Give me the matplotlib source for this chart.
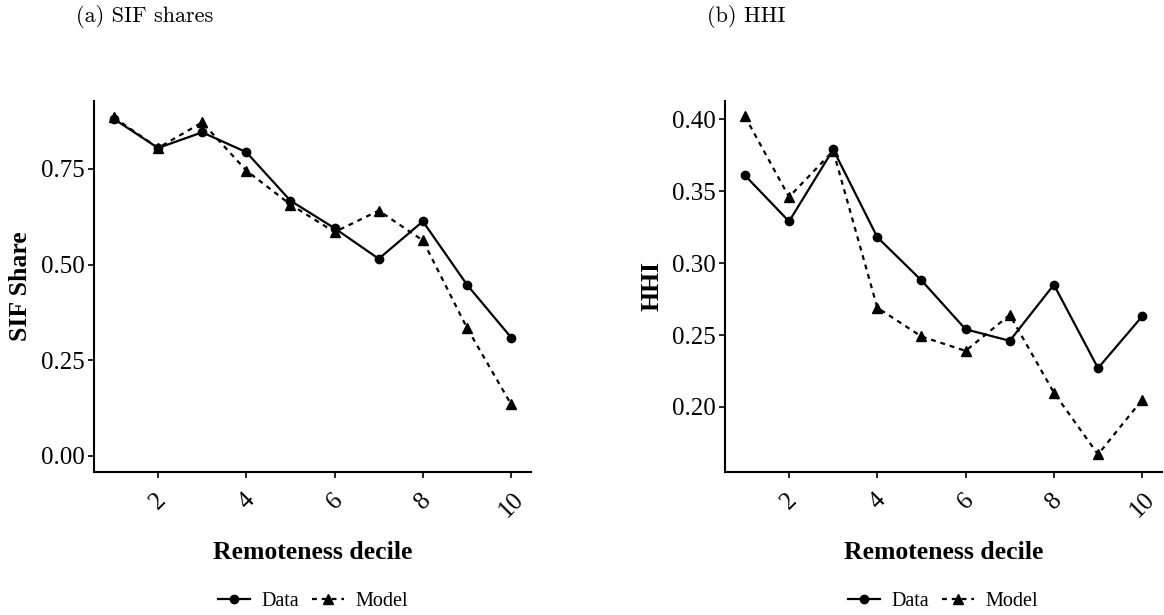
import matplotlib
matplotlib.use("Agg")
import matplotlib.pyplot as plt
from matplotlib.lines import Line2D
import numpy as np

# data
decile = np.arange(1, 11)
sif_data = [0.881, 0.805, 0.846, 0.794, 0.667, 0.595, 0.515, 0.613, 0.447, 0.309]
sif_model = [0.885, 0.805, 0.872, 0.746, 0.657, 0.585, 0.641, 0.563, 0.334, 0.134]
hhi_data = [0.361, 0.329, 0.379, 0.318, 0.288, 0.254, 0.246, 0.285, 0.227, 0.263]
hhi_model = [0.402, 0.346, 0.378, 0.269, 0.249, 0.239, 0.264, 0.210, 0.167, 0.205]
sif_ticks = [0.00, 0.25, 0.50, 0.75]
hhi_ticks = [0.20, 0.25, 0.30, 0.35, 0.40]

plt.rcParams['font.family'] = ['Liberation Serif', 'DejaVu Serif']

fig = plt.figure(figsize=(11.64, 6.15), dpi=100)
ax1 = fig.add_axes([0.0808, 0.2325, 0.3754, 0.6033])
ax2 = fig.add_axes([0.6229, 0.2325, 0.3754, 0.6033])

panels = [
    (ax1, sif_data, sif_model, sif_ticks, "SIF Share", (-0.043, 0.928), "{:.2f}"),
    (ax2, hhi_data, hhi_model, hhi_ticks, "HHI", (0.1548, 0.4127), "{:.2f}"),
]

for ax, d, m, ticks, ylab, ylim, fmt in panels:
    ax.plot(decile, d, color='black', lw=1.6, marker='o', ms=6)
    ax.plot(decile, m, color='black', lw=1.6, marker='^', ms=7,
            linestyle=(0, (2.2, 2.2)))
    ax.set_xlim(0.55, 10.45)
    ax.set_ylim(*ylim)
    ax.set_xticks([2, 4, 6, 8, 10])
    ax.set_xticklabels(["2", "4", "6", "8", "10"], rotation=45, ha='center')
    ax.set_yticks(ticks)
    ax.set_yticklabels([fmt.format(t) for t in ticks])
    ax.tick_params(labelsize=18, length=4, width=1.2, pad=3, colors='black')
    ax.tick_params(axis='x', pad=8)
    for s in ['top', 'right']:
        ax.spines[s].set_visible(False)
    for s in ['left', 'bottom']:
        ax.spines[s].set_linewidth(1.5)
    ax.set_xlabel("Remoteness decile", fontsize=18.5, fontweight='bold', labelpad=14)
    ax.set_ylabel(ylab, fontsize=18.5, fontweight='bold', labelpad=6)

# subfigure captions (LaTeX style)
fig.text(145 / 1164, 1 - 17 / 615, "(a) SIF shares", family='cmr10', fontsize=16,
         ha='center', va='center')
fig.text(746 / 1164, 1 - 17 / 615, "(b) HHI", family='cmr10', fontsize=16,
         ha='center', va='center')

handles = [
    Line2D([], [], color='black', lw=1.6, marker='o', ms=6),
    Line2D([], [], color='black', lw=1.6, marker='^', ms=7, linestyle=(0, (2.2, 2.2))),
]
for cx in [313 / 1164, 943 / 1164]:
    fig.legend(handles, ["Data", "Model"], loc='center', ncol=2,
               bbox_to_anchor=(cx, 1 - 601 / 615), frameon=False, fontsize=14.5,
               handlelength=1.6, handletextpad=0.6, columnspacing=0.6)

plt.savefig('out.png', dpi=100)
